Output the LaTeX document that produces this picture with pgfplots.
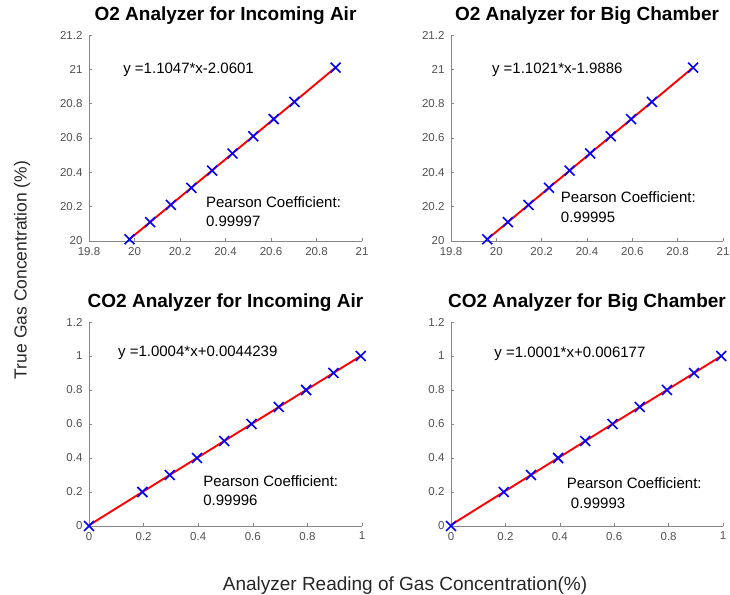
\documentclass[border=0pt]{standalone}
\usepackage{fontspec}
\setmainfont{Liberation Sans}
\usepackage{pgfplots}
\pgfplotsset{compat=1.18}
\definecolor{axgray}{RGB}{135,135,135}
\definecolor{tickgray}{RGB}{80,80,80}
\tikzset{ann/.style={anchor=west, font=\fontsize{15}{18}\selectfont, inner sep=0pt}}
\pgfplotsset{
  mstyle/.style={
    scale only axis, width=273pt, height=206pt,
    axis lines=left, axis line style={-, axgray, line width=0.6pt},
    tick align=inside, major tick length=3pt,
    tick style={axgray, line width=0.6pt},
    every tick label/.append style={font=\fontsize{11.5}{13}\selectfont, text=tickgray},
    xticklabel style={yshift=-2.5pt},
    yticklabel style={xshift=-3pt},
    /pgf/number format/assume math mode=true,
    /pgf/number format/fixed, /pgf/number format/precision=1,
    title style={at={(0.5,1)}, anchor=base, yshift=8.5pt, font=\bfseries\fontsize{19}{22}\selectfont},
    clip=false,
  },
  o2/.style={mstyle, xmin=19.8, xmax=21, ymin=20, ymax=21.2,
    xtick={19.8,20,20.2,20.4,20.6,20.8,21}, ytick={20,20.2,20.4,20.6,20.8,21,21.2}},
  co2/.style={mstyle, xmin=0, xmax=1, ymin=0, ymax=1.2,
    xtick={0,0.2,0.4,0.6,0.8,1}, ytick={0,0.2,0.4,0.6,0.8,1,1.2}},
  fitline/.style={red, line width=1.9pt, no marks},
  pts/.style={only marks, blue, mark=x, mark size=7pt, mark options={line width=1.6pt}},
}
\pgfplotstableread{
x y
19.978 20.01
20.069 20.11
20.160 20.21
20.250 20.31
20.341 20.41
20.431 20.51
20.522 20.61
20.612 20.71
20.703 20.81
20.884 21.01
}\oone
\pgfplotstableread{
x y
19.960 20.01
20.051 20.11
20.142 20.21
20.232 20.31
20.323 20.41
20.414 20.51
20.505 20.61
20.595 20.71
20.686 20.81
20.868 21.01
}\otwo
\pgfplotstableread{
x y
0.000 0.0
0.1955 0.2
0.2955 0.3
0.3954 0.4
0.4954 0.5
0.5953 0.6
0.6953 0.7
0.7953 0.8
0.8952 0.9
0.9952 1.0
}\cone
\pgfplotstableread{
x y
0.000 0.0
0.1938 0.2
0.2938 0.3
0.3938 0.4
0.4938 0.5
0.5938 0.6
0.6938 0.7
0.7937 0.8
0.8937 0.9
0.9937 1.0
}\ctwo
\begin{document}
\begin{tikzpicture}
\path[use as bounding box] (0,0) rectangle (730pt,594pt);
% top left
\begin{axis}[o2, at={(89pt,353pt)}, anchor=south west, title={O2 Analyzer for Incoming Air}]
\addplot[fitline] coordinates {(19.978,20.0100) (20.884,21.0110)};
\addplot[pts] table[x=x,y=y] {\oone};
\node[ann] at (axis cs:19.95,21.0) {y =1.1047*x-2.0601};
\node[ann] at (axis cs:20.314,20.229) {Pearson Coefficient:};
\node[ann] at (axis cs:20.314,20.112) {0.99997};
\end{axis}
% top right
\begin{axis}[o2, at={(451pt,353pt)}, anchor=south west, width=272pt, title={O2 Analyzer for Big Chamber}]
\addplot[fitline] coordinates {(19.960,20.0100) (20.868,21.0106)};
\addplot[pts] table[x=x,y=y] {\otwo};
\node[ann] at (axis cs:19.98,21.0) {y =1.1021*x-1.9886};
\node[ann] at (axis cs:20.284,20.258) {Pearson Coefficient:};
\node[ann] at (axis cs:20.284,20.14) {0.99995};
\end{axis}
% bottom left
\begin{axis}[co2, at={(89pt,68pt)}, anchor=south west, height=204pt, title={CO2 Analyzer for Incoming Air}]
\addplot[fitline] coordinates {(0,0.0044) (0.9952,1.0000)};
\addplot[pts] table[x=x,y=y] {\cone};
\node[ann] at (axis cs:0.106,1.016) {y =1.0004*x+0.0044239};
\node[ann] at (axis cs:0.418,0.261) {Pearson Coefficient:};
\node[ann] at (axis cs:0.418,0.149) {0.99996};
\end{axis}
% bottom right
\begin{axis}[co2, at={(451pt,68pt)}, anchor=south west, width=272pt, height=204pt, title={CO2 Analyzer for Big Chamber}]
\addplot[fitline] coordinates {(0,0.0062) (0.9937,1.0000)};
\addplot[pts] table[x=x,y=y] {\ctwo};
\node[ann] at (axis cs:0.159,1.01) {y =1.0001*x+0.006177};
\node[ann] at (axis cs:0.425,0.251) {Pearson Coefficient:};
\node[ann] at (axis cs:0.425,0.134) {\ 0.99993};
\end{axis}
\node[rotate=90, font=\fontsize{17.5}{20}\selectfont, text=black!85] at (22pt,324pt) {True Gas Concentration (\%)};
\node[anchor=base, font=\fontsize{19}{22}\selectfont, text=black!85] at (405pt,4pt) {Analyzer Reading of Gas Concentration(\%)};
\end{tikzpicture}
\end{document}
